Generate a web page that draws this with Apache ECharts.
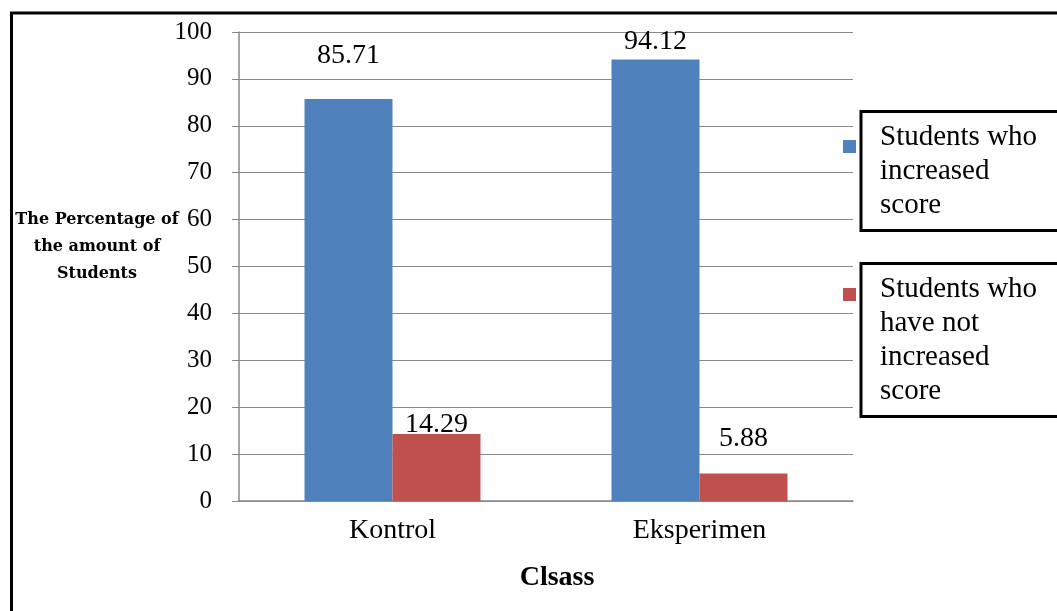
<!DOCTYPE html>
<html>
<head>
<meta charset="utf-8">
<title>Students score chart</title>
<script src="https://cdn.jsdelivr.net/npm/echarts@6/dist/echarts.min.js"></script>
<style>
    html, body { margin: 0; padding: 0; background: #fff; }
    #chart { width: 1057px; height: 611px; }
</style>
</head>
<body>
<div id="chart"></div>
<script>
// data
const categories = ['Kontrol', 'Eksperimen'];
const increased = [85.71, 94.12];
const notIncreased = [14.29, 5.88];
const seriesNames = ['Students who\nincreased\nscore', 'Students who\nhave not\nincreased\nscore'];

// how far each value label sits above its bar (px)
const increasedLift = [29, 4];
const notIncreasedLift = [-5, 21];

const serif = 'Liberation Serif';
const gridColor = '#888888';

function withLabels(values, lifts) {
    return values.map((v, i) => ({
        value: v,
        label: { offset: [0, -lifts[i]] },
    }));
}

const chart = echarts.init(document.querySelector('#chart'));
chart.setOption({
    animation: false,
    color: ['#4f81bd', '#c0504d'],
    grid: {
        left: 239,
        right: 204,
        top: 32,
        bottom: 110,
    },
    legend: {
        orient: 'vertical',
        left: 843,
        top: 110,
        padding: 0,
        itemGap: 30,
        itemWidth: 13,
        itemHeight: 104,
        selectedMode: false,
        data: [
            // square drawn near the top of a tall invisible icon box
            { name: seriesNames[0], icon: 'path://M0,21L13,21L13,34L0,34Z M0,0L0.01,0L0,0.01Z M0,104L0.01,104L0,103.99Z' },
            { name: seriesNames[1], icon: 'path://M0,0L13,0L13,13L0,13Z M0,104L0.01,104L0,103.99Z' },
        ],
        textStyle: {
            color: '#000',
            fontFamily: serif,
            fontSize: 29,
            lineHeight: 34,
            width: 200,
            padding: [9, 0, 8, 19],
            borderColor: '#000',
            borderWidth: 3,
        },
    },
    xAxis: {
        type: 'category',
        data: categories,
        name: 'Clsass',
        nameLocation: 'middle',
        nameGap: 63,
        nameTextStyle: {
            color: '#000',
            fontFamily: serif,
            fontSize: 28,
            fontWeight: 'bold',
            padding: [0, 0, 0, 22],
        },
        axisLine: {
            lineStyle: { color: gridColor, width: 1.5 },
        },
        axisTick: {
            length: 8,
            lineStyle: { color: gridColor },
        },
        axisLabel: {
            color: '#000',
            fontFamily: serif,
            fontSize: 28,
            margin: 16,
        },
    },
    yAxis: {
        type: 'value',
        min: 0,
        max: 100,
        interval: 10,
        axisLine: {
            show: true,
            lineStyle: { color: gridColor, width: 1.5 },
        },
        axisTick: {
            show: true,
            length: 7,
            lineStyle: { color: gridColor },
        },
        axisLabel: {
            color: '#000',
            fontFamily: serif,
            fontSize: 25,
            margin: 27,
        },
        splitLine: {
            lineStyle: { color: gridColor, width: 1 },
        },
    },
    series: [
        {
            name: seriesNames[0],
            type: 'bar',
            barWidth: 88,
            barGap: 0,
            data: withLabels(increased, increasedLift),
        },
        {
            name: seriesNames[1],
            type: 'bar',
            barWidth: 88,
            barGap: 0,
            data: withLabels(notIncreased, notIncreasedLift),
        },
    ].map(s => Object.assign(s, {
        label: {
            show: true,
            position: 'top',
            distance: 0,
            color: '#000',
            fontFamily: serif,
            fontSize: 28,
        },
    })),
    graphic: [
        // outer frame, runs off the right and bottom edge
        {
            type: 'rect',
            shape: { x: 11.5, y: 13, width: 1200, height: 800 },
            style: { fill: 'none', stroke: '#000', lineWidth: 3 },
            silent: true,
        },
        // y axis title
        {
            type: 'text',
            x: 97,
            y: 247,
            style: {
                text: 'The Percentage of\nthe amount of\nStudents',
                fill: '#000',
                font: 'bold 16px "DejaVu Serif"',
                lineHeight: 27,
                align: 'center',
                verticalAlign: 'middle',
            },
            silent: true,
        },
    ],
});
</script>
</body>
</html>
